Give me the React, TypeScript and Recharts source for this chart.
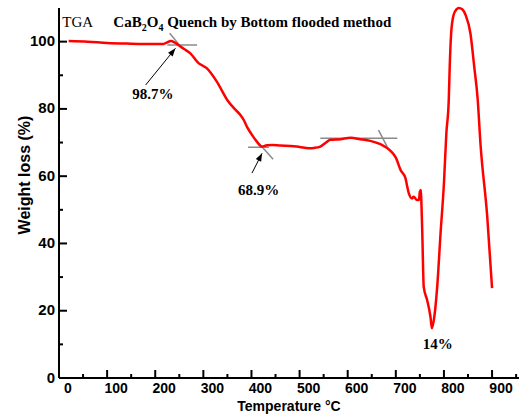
import { LineChart, Line, XAxis, YAxis, ReferenceLine, ReferenceDot } from 'recharts'

// TGA curve (temperature in °C, weight in %)
const temps = [
  20, 60, 100, 150, 200, 217, 225, 232, 240, 248, 260, 273, 290, 307, 328, 350, 365, 377, 384, 391,
  400, 410, 422, 432, 443, 460, 481, 500, 519, 530, 543, 553, 564, 585, 606, 626, 647, 668, 689, 700,
  710, 720, 723, 727, 734, 737, 744, 748, 750, 752, 753, 755, 758, 765, 772, 775, 780, 786, 793, 800,
  805, 810, 812, 815, 820, 826, 831, 838, 845, 855, 863, 870, 876, 890, 900,
]
const weights = [
  100.2, 100, 99.6, 99.4, 99.3, 99.3, 99.8, 100.2, 99.8, 99.0, 97.8, 96.5, 93.6, 92.1, 88.1, 82.6, 80, 78.2, 76.7, 74.6,
  72.5, 70.5, 68.8, 69.2, 69.3, 69.1, 69.0, 68.7, 68.3, 68.4, 68.8, 69.8, 70.8, 71.0, 71.4, 71.0, 70.5, 69.5, 67.5, 65.5,
  61.8, 59.4, 57.4, 54.9, 53.4, 53.9, 52.9, 52.9, 55.4, 55.9, 52.9, 43.1, 27.1, 23.2, 18.2, 14.8, 18.2, 27.1, 43.1, 57.9,
  72.7, 82.6, 92.5, 102.5, 107.9, 109.6, 110, 109.6, 107.9, 102.5, 92.5, 83.1, 69.5, 48, 26.7,
]

const xTicks = [0, 50, 100, 150, 200, 250, 300, 350, 400, 450, 500, 550, 600, 650, 700, 750, 800, 850, 900, 950]
const yTicks = [0, 10, 20, 30, 40, 50, 60, 70, 80, 90, 100]

// tangent construction lines (data coordinates)
const tangents = [
  { x1: 225, y1: 99.0, x2: 287, y2: 99.0 },
  { x1: 230, y1: 102.5, x2: 256, y2: 98.0 },
  { x1: 393, y1: 68.6, x2: 436, y2: 68.6 },
  { x1: 412, y1: 70.3, x2: 445, y2: 65.0 },
  { x1: 543, y1: 71.3, x2: 703, y2: 71.3 },
  { x1: 664, y1: 73.7, x2: 682, y2: 68.8 },
]

// arrows from the percentage labels to the onset points
const arrows = [
  { x1: 180, y1: 87.1, x2: 242, y2: 98.0, angle: -50.7 },
  { x1: 401, y1: 60.9, x2: 422, y2: 66.8, angle: -63.4 },
]

const notes = [
  { x: 195, y: 82.8, text: '98.7%' },
  { x: 415, y: 54.4, text: '68.9%' },
  { x: 787, y: 8.5, text: '14%' },
]

const data = temps.map((t, i) => ({ t, w: weights[i] }))

const SANS = 'Liberation Sans, Arial, sans-serif'
const SERIF = 'Liberation Serif, Times New Roman, serif'

// eslint-disable-next-line @typescript-eslint/no-explicit-any
function XTick(props: any) {
  const { x, y, payload } = props
  const v = payload.value
  const major = v % 100 === 0
  return (
    <g>
      <line x1={x} x2={x} y1={y} y2={y - (major ? 8 : 4)} stroke="#000" strokeWidth={2} />
      {major && (
        <text x={x + 9} y={y + 15} textAnchor="middle" fontFamily={SANS} fontWeight="bold" fontSize={14} fill="#000">
          {v}
        </text>
      )}
    </g>
  )
}

// eslint-disable-next-line @typescript-eslint/no-explicit-any
function YTick(props: any) {
  const { x, y, payload } = props
  const v = payload.value
  const major = v % 20 === 0
  return (
    <g>
      <line x1={x} x2={x + (major ? 8 : 4)} y1={y} y2={y} stroke="#000" strokeWidth={2} />
      {major && (
        <text x={x - 4} y={y + 4.5} textAnchor="end" fontFamily={SANS} fontWeight="bold" fontSize={15} fill="#000">
          {v}
        </text>
      )}
    </g>
  )
}

// eslint-disable-next-line @typescript-eslint/no-explicit-any
function XTitle(props: any) {
  const { viewBox } = props
  return (
    <text
      x={viewBox.x + viewBox.width / 2}
      y={viewBox.y + 33}
      textAnchor="middle"
      fontFamily={SANS}
      fontWeight="bold"
      fontSize={14}
      fill="#000"
    >
      Temperature °C
    </text>
  )
}

// eslint-disable-next-line @typescript-eslint/no-explicit-any
function YTitle(props: any) {
  const { viewBox } = props
  const cx = viewBox.x + 10.5
  const cy = 175
  return (
    <text
      x={cx}
      y={cy}
      transform={`rotate(-90, ${cx}, ${cy})`}
      textAnchor="middle"
      fontFamily={SANS}
      fontWeight="bold"
      fontSize={16}
      fill="#000"
    >
      Weight loss (%)
    </text>
  )
}

// eslint-disable-next-line @typescript-eslint/no-explicit-any
function NoteLabel(text: string, anchor: string, bold: boolean) {
  // eslint-disable-next-line @typescript-eslint/no-explicit-any
  return (props: any) => (
    <text
      x={props.viewBox.x}
      y={props.viewBox.y}
      textAnchor={anchor}
      fontFamily={SERIF}
      fontWeight={bold ? 'bold' : 'normal'}
      fontSize={15}
      fill="#000"
    >
      {text}
    </text>
  )
}

// eslint-disable-next-line @typescript-eslint/no-explicit-any
function TitleLabel(props: any) {
  const { x, y } = props.viewBox
  return (
    <text x={x} y={y} fontFamily={SERIF} fontWeight="bold" fontSize={15} fill="#000">
      CaB
      <tspan fontSize={10} dy={4}>2</tspan>
      <tspan dy={-4}>O</tspan>
      <tspan fontSize={10} dy={4}>4</tspan>
      <tspan dy={-4}> Quench by Bottom flooded method</tspan>
    </text>
  )
}

function arrowHead(angle: number) {
  // eslint-disable-next-line @typescript-eslint/no-explicit-any
  return (props: any) => {
    const { cx, cy } = props
    return (
      <polygon
        points={`${cx},${cy} ${cx - 8},${cy - 3} ${cx - 8},${cy + 3}`}
        transform={`rotate(${angle}, ${cx}, ${cy})`}
        fill="#000"
      />
    )
  }
}

export default function App() {
  return (
    <div style={{ position: 'absolute', left: 0, top: 0, background: '#fff' }}>
      <LineChart width={521} height={416} data={data} margin={{ top: 8, right: 2, bottom: 8, left: 19 }}>
        <XAxis
          dataKey="t"
          type="number"
          domain={[0, 956]}
          ticks={xTicks}
          interval={0}
          tickSize={0}
          tickMargin={0}
          tickLine={false}
          tick={XTick}
          height={30}
          axisLine={{ stroke: '#000', strokeWidth: 2 }}
          label={{ content: XTitle }}
        />
        <XAxis
          xAxisId="top"
          orientation="top"
          type="number"
          domain={[0, 956]}
          height={0}
          tick={false}
          tickLine={false}
          axisLine={{ stroke: '#000', strokeWidth: 2 }}
        />
        <YAxis
          type="number"
          domain={[0, 110]}
          ticks={yTicks}
          interval={0}
          tickSize={0}
          tickMargin={0}
          tickLine={false}
          tick={YTick}
          width={40}
          axisLine={{ stroke: '#000', strokeWidth: 2 }}
          label={{ content: YTitle }}
        />
        <YAxis
          yAxisId="right"
          orientation="right"
          type="number"
          domain={[0, 110]}
          width={0}
          tick={false}
          tickLine={false}
          axisLine={{ stroke: '#000', strokeWidth: 2 }}
        />

        {tangents.map((s, i) => (
          <ReferenceLine
            key={`tan${i}`}
            segment={[
              { x: s.x1, y: s.y1 },
              { x: s.x2, y: s.y2 },
            ]}
            stroke="#8a8a8a"
            strokeWidth={1.5}
          />
        ))}

        <Line
          type="monotone"
          dataKey="w"
          stroke="#ff0000"
          strokeWidth={2.5}
          dot={false}
          activeDot={false}
          isAnimationActive={false}
        />

        {arrows.map((a, i) => (
          <ReferenceLine
            key={`arr${i}`}
            segment={[
              { x: a.x1, y: a.y1 },
              { x: a.x2, y: a.y2 },
            ]}
            stroke="#000"
            strokeWidth={1}
          />
        ))}
        {arrows.map((a, i) => (
          <ReferenceDot key={`head${i}`} x={a.x2} y={a.y2} r={0} shape={arrowHead(a.angle)} />
        ))}

        {notes.map((n, i) => (
          <ReferenceDot
            key={`note${i}`}
            x={n.x}
            y={n.y}
            r={0}
            fill="none"
            stroke="none"
            label={{ content: NoteLabel(n.text, 'middle', true) }}
          />
        ))}
        <ReferenceDot x={7} y={104.5} r={0} fill="none" stroke="none" label={{ content: NoteLabel('TGA', 'start', false) }} />
        <ReferenceDot x={113} y={104.5} r={0} fill="none" stroke="none" label={{ content: TitleLabel }} />
      </LineChart>
    </div>
  )
}
